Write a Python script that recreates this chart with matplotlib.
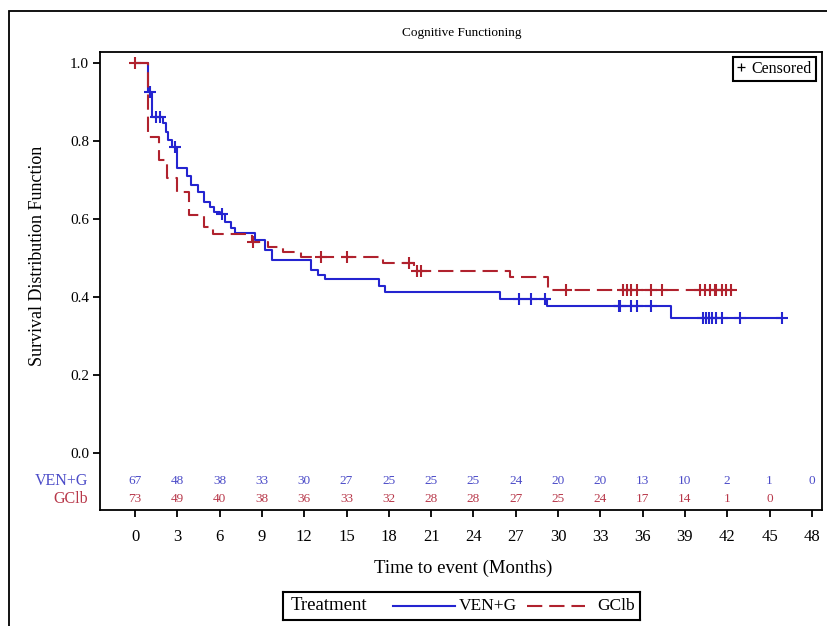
import numpy as np
import matplotlib
matplotlib.use("Agg")
import matplotlib.pyplot as plt
from matplotlib.lines import Line2D
from matplotlib.patches import Rectangle
import matplotlib.transforms as mtrans

plt.rcParams['font.family'] = ['Liberation Serif', 'DejaVu Serif']
plt.rcParams['lines.scale_dashes'] = False

# ---------------- data ----------------
title = "Cognitive Functioning"
groups = ["VEN+G", "GClb"]

ven_t = [0, 0.95, 1.18, 2.0, 2.17, 2.36, 2.6, 3.0, 3.7, 4.0, 4.5, 4.9, 5.3, 5.6,
         6.0, 6.4, 6.8, 7.1, 8.5, 9.2, 9.7, 12.5, 13.0, 13.5, 17.3, 17.7, 25.9,
         29.2, 38.0]
ven_s = [1.0, 0.926, 0.862, 0.845, 0.824, 0.803, 0.784, 0.730, 0.709, 0.687,
         0.670, 0.644, 0.632, 0.619, 0.613, 0.593, 0.576, 0.563, 0.546, 0.520,
         0.495, 0.469, 0.457, 0.445, 0.428, 0.414, 0.394, 0.377, 0.345]
ven_end = 45.9
ven_cens = [1.06, 1.47, 1.77, 2.84, 6.19, 27.2, 28.1, 29.1, 34.3, 34.4, 35.2,
            35.6, 36.6, 40.3, 40.5, 40.7, 40.9, 41.2, 41.6, 42.9, 45.9]

gclb_t = [0, 0.95, 1.7, 2.25, 2.95, 3.8, 4.9, 5.5, 8.3, 9.4, 10.5, 11.8, 17.6,
          19.8, 26.6, 29.3]
gclb_s = [1.0, 0.809, 0.751, 0.704, 0.668, 0.610, 0.580, 0.562, 0.542, 0.529,
          0.516, 0.502, 0.486, 0.467, 0.452, 0.418]
gclb_end = 42.4
gclb_cens = [0.0, 8.4, 13.2, 15.0, 19.4, 20.0, 20.3, 30.6, 34.6, 34.9, 35.2,
             35.6, 36.6, 37.4, 40.1, 40.4, 40.8, 41.1, 41.2, 41.6, 41.9, 42.3]

risk_times = list(range(0, 49, 3))
ven_risk = [67, 48, 38, 33, 30, 27, 25, 25, 25, 24, 20, 20, 13, 10, 2, 1, 0]
gclb_risk = [73, 49, 40, 38, 36, 33, 32, 28, 28, 27, 25, 24, 17, 14, 1, 0]

y_ticks = [0.0, 0.2, 0.4, 0.6, 0.8, 1.0]

# ---------------- style ----------------
BLUE = '#2424D0'
RED = '#B0222E'
BLUE_TXT = '#4B4BC8'
RED_TXT = '#B8384A'

W, H = 827, 626
fig = plt.figure(figsize=(W / 100, H / 100), dpi=100)

def fx(px):
    return px / W

def fy(py):
    return 1 - py / H

ax_l, ax_r, ax_t, ax_b = 100, 822, 52, 510
ax = fig.add_axes([fx(ax_l), fy(ax_b), fx(ax_r - ax_l), (ax_b - ax_t) / H])

# outer frame
fig.add_artist(Rectangle((fx(9), -0.5), 2.0, fy(11) + 0.5, transform=fig.transFigure,
                         fill=False, lw=1.3, ec='black', clip_on=False))

def surv_at(times, surv, t):
    idx = np.searchsorted(np.asarray(times), np.asarray(t), side='right') - 1
    return np.asarray(surv)[idx]

# curves
ax.plot(ven_t + [ven_end], ven_s + [ven_s[-1]], drawstyle='steps-post',
        color=BLUE, lw=1.5, zorder=3)
ax.plot(ven_cens, surv_at(ven_t, ven_s, ven_cens), ls='none', marker='+',
        ms=9, mew=1.5, color=BLUE, zorder=3)

ax.plot(gclb_t + [gclb_end], gclb_s + [gclb_s[-1]], drawstyle='steps-post',
        color=RED, lw=1.5, dashes=(11, 5), zorder=4)
ax.plot(gclb_cens, surv_at(gclb_t, gclb_s, gclb_cens), ls='none', marker='+',
        ms=9, mew=1.5, color=RED, zorder=4)

# axes ranges: 1.0 at y=63px, 0.0 at y=453px ; t=0 at x=135px, 14.1 px / month
ppm = 14.1
ax.set_xlim((ax_l - 135) / ppm, (ax_r - 135) / ppm)
ax.set_ylim((453 - ax_b) / 390, (453 - ax_t) / 390)

ax.set_yticks(y_ticks)
ax.set_yticklabels([f"{v:.1f}" for v in y_ticks])
ax.set_xticks(risk_times)
ax.set_xticklabels([str(v) for v in risk_times])
ax.tick_params(axis='y', direction='out', length=5, width=1.3, pad=3, labelsize=11)
ax.tick_params(axis='x', direction='out', length=5, width=1.3, pad=8.5, labelsize=12)
for sp in ax.spines.values():
    sp.set_linewidth(1.3)

# at-risk table (inside axes, below 0)
blend = mtrans.blended_transform_factory(ax.transData, ax.transAxes)
y_blue = (ax_b - 481) / (ax_b - ax_t)
y_red = (ax_b - 499) / (ax_b - ax_t)
for t, n in zip(risk_times, ven_risk):
    ax.text(t, y_blue, str(n), transform=blend, ha='center', va='center',
            fontsize=9.5, color=BLUE_TXT)
for t, n in zip(risk_times, gclb_risk):
    ax.text(t, y_red, str(n), transform=blend, ha='center', va='center',
            fontsize=9.5, color=RED_TXT)
lab_x = (88 - ax_l) / (ax_r - ax_l)
ax.text(lab_x, y_blue, groups[0], transform=ax.transAxes, ha='right', va='center',
        fontsize=11.5, color=BLUE_TXT)
ax.text(lab_x, y_red, groups[1], transform=ax.transAxes, ha='right', va='center',
        fontsize=11.5, color=RED_TXT)

# censored legend
cens_handle = Line2D([], [], ls='none', marker='+', color='black', ms=6, mew=0.9)
leg = ax.legend([cens_handle], ['Censored'], loc='upper right',
                bbox_to_anchor=(fx(816), fy(57)), bbox_transform=fig.transFigure,
                borderaxespad=0, fontsize=11.5, handlelength=0.6, handletextpad=0.35,
                borderpad=0.25, fancybox=False, framealpha=1)
leg.get_frame().set_edgecolor('black')
leg.get_frame().set_linewidth(1.5)

# titles / labels
fig.text(fx(462), fy(33), title, ha='center', va='center', fontsize=9.5)
fig.text(fx(38), fy(256), "Survival Distribution Function", rotation=90,
         ha='center', va='center', fontsize=13)
fig.text(fx(463), fy(568), "Time to event (Months)", ha='center', va='center',
         fontsize=13.5)

# bottom treatment legend
lx0, lx1, ly0, ly1 = 283, 640, 592, 620
lax = fig.add_axes([fx(lx0), fy(ly1), fx(lx1 - lx0), (ly1 - ly0) / H])
lax.set_xlim(lx0, lx1)
lax.set_ylim(ly1, ly0)
lax.set_xticks([])
lax.set_yticks([])
for sp in lax.spines.values():
    sp.set_linewidth(1.5)
ymid = (ly0 + ly1) / 2
lax.text(291, ymid, "Treatment", ha='left', va='center', fontsize=13.5)
lax.plot([393, 455], [ymid, ymid], color=BLUE, lw=1.5)
lax.text(459, ymid, groups[0], ha='left', va='center', fontsize=12.5)
lax.plot([527, 585], [ymid, ymid], color=RED, lw=1.5, dashes=(11, 5))
lax.text(597, ymid, groups[1], ha='left', va='center', fontsize=12.5)

fig.savefig("out.png", dpi=100)
